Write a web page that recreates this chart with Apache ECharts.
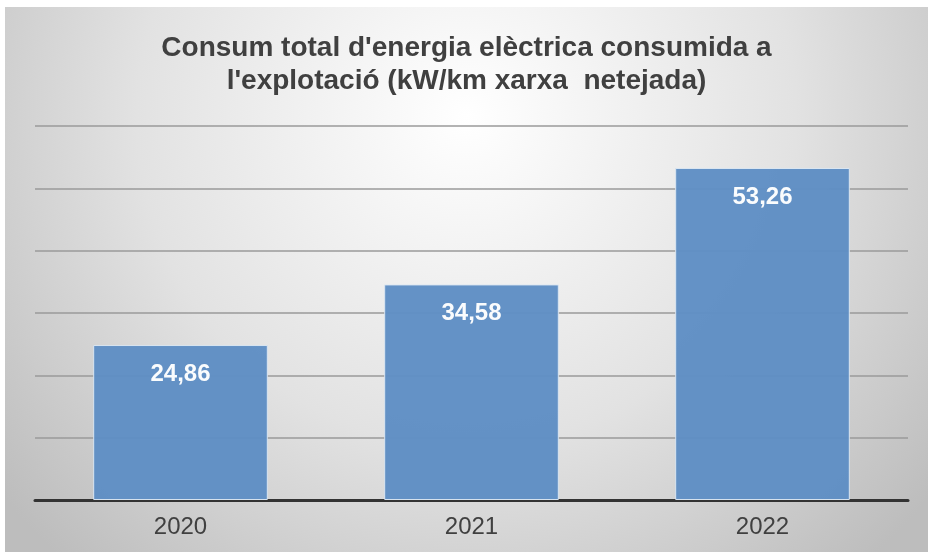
<!DOCTYPE html>
<html>
<head>
<meta charset="utf-8">
<script src="https://cdn.jsdelivr.net/npm/echarts@6/dist/echarts.min.js"></script>
<style>
  html, body { margin: 0; padding: 0; background: #fff; }
  #chart { position: absolute; left: 5px; top: 7px; width: 923px; height: 545px; }
</style>
</head>
<body>
<div id="chart"></div>
<script>
const years = ['2020', '2021', '2022']
const consum = [24.86, 34.58, 53.26]
const titleLines = ["Consum total d'energia elèctrica consumida a", "l'explotació (kW/km xarxa  netejada)"]

const chart = echarts.init(document.getElementById('chart'))

const option = {
  backgroundColor: {
    type: 'radial', x: 0.5, y: 0.2, r: 1.1,
    colorStops: [
      { offset: 0, color: '#ffffff' },
      { offset: 0.55, color: '#e2e2e2' },
      { offset: 1, color: '#bdbdbd' }
    ]
  },
  animation: false,
  title: {
    text: titleLines.join('\n'),
    left: 'center',
    top: 20,
    textStyle: {
      fontFamily: 'Liberation Sans, Arial, sans-serif',
      fontSize: 28,
      fontWeight: 'bold',
      color: '#404040',
      lineHeight: 33
    }
  },
  grid: { left: 30, right: 20, top: 119, bottom: 52 },
  xAxis: {
    type: 'category',
    data: years,
    axisTick: { show: false },
    axisLine: { lineStyle: { color: '#333333', width: 3 } },
    axisLabel: {
      fontFamily: 'Liberation Sans, Arial, sans-serif',
      fontSize: 24,
      color: '#404040',
      margin: 15
    }
  },
  yAxis: {
    type: 'value',
    min: 0,
    max: 60,
    interval: 10,
    axisLabel: { show: false },
    axisLine: { show: false },
    axisTick: { show: false },
    splitLine: { lineStyle: { color: '#9a9a9a', width: 1.5 } }
  },
  series: [{
    type: 'bar',
    data: consum,
    barWidth: '60%',
    itemStyle: { color: '#5f8ec4', borderColor: '#dbe6f2', borderWidth: 1, opacity: 0.97 },
    label: {
      show: true,
      position: 'insideTop',
      distance: 17,
      formatter: p => p.value.toFixed(2).replace('.', ','),
      fontFamily: 'Liberation Sans, Arial, sans-serif',
      fontSize: 24,
      fontWeight: 'bold',
      color: '#ffffff'
    }
  }]
}

chart.setOption(option)
</script>
</body>
</html>
